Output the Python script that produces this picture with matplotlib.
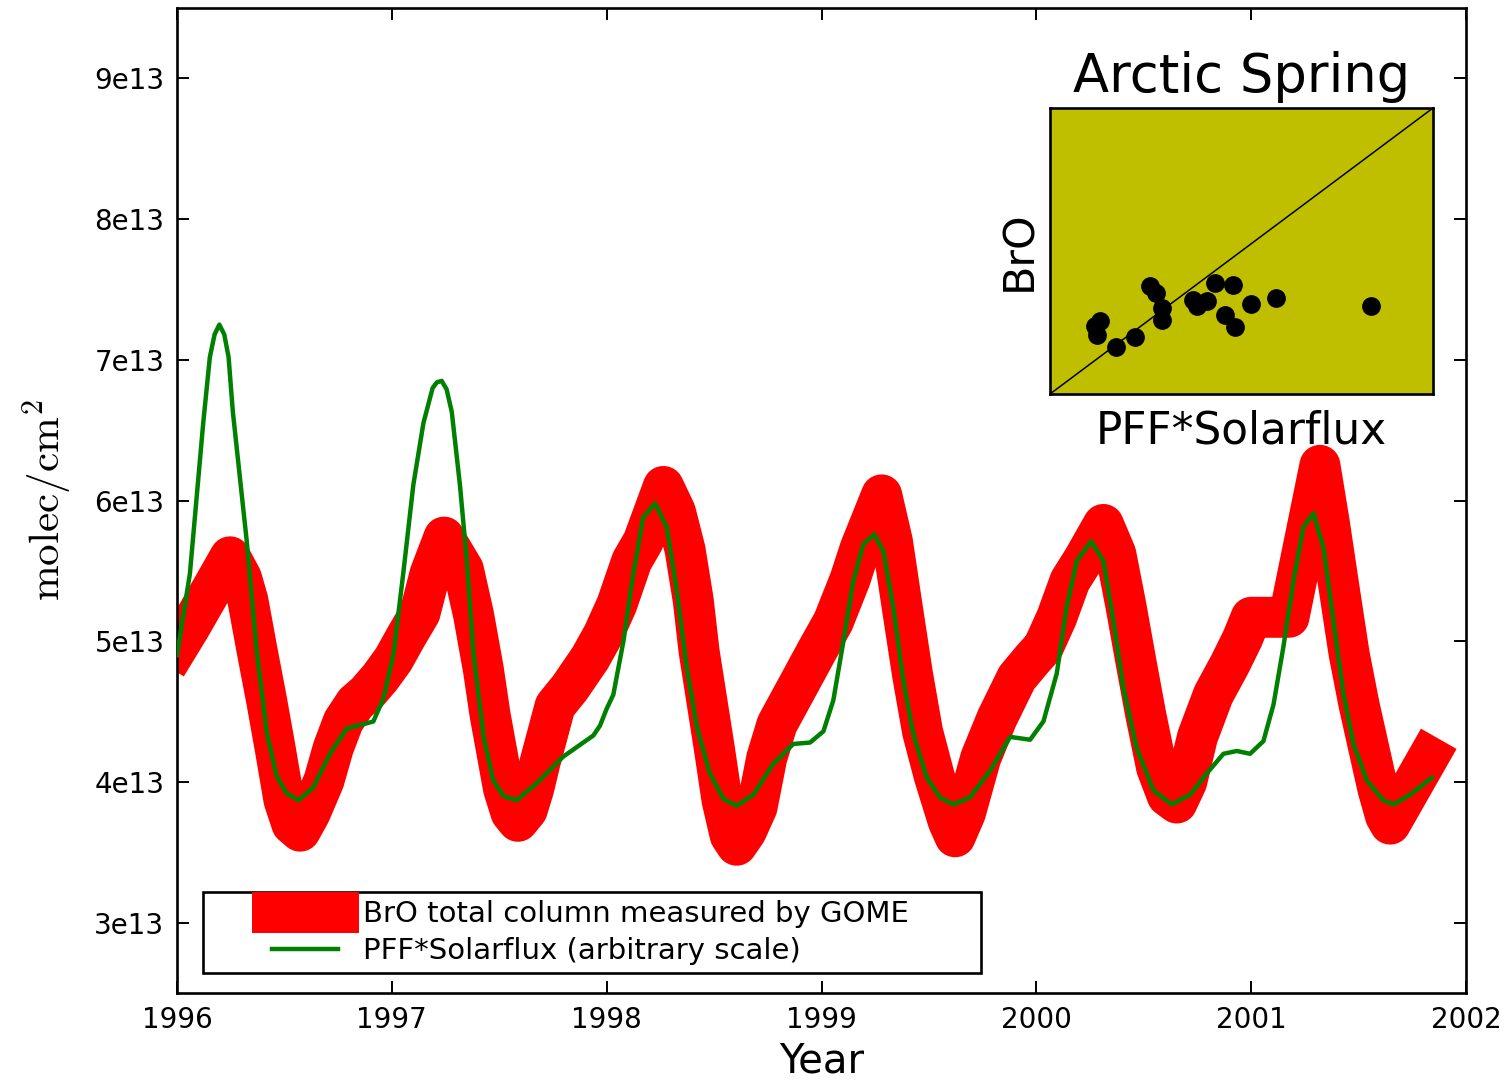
import numpy as np
import matplotlib
matplotlib.use("Agg")
import matplotlib.pyplot as plt
from matplotlib.legend_handler import HandlerLine2D

plt.rcParams['font.family'] = ['DejaVu Sans']
plt.rcParams['mathtext.fontset'] = 'cm'

# ---------------- data (values in units of 1e13 molec/cm^2) ----------------
bro_years = [1996.00, 1996.06, 1996.12, 1996.18, 1996.247, 1996.30, 1996.33, 1996.372,
             1996.417, 1996.459, 1996.498, 1996.535, 1996.573, 1996.62, 1996.684, 1996.727,
             1996.774, 1996.83, 1996.883, 1996.945, 1997.007, 1997.069, 1997.131, 1997.178,
             1997.243, 1997.333, 1997.38, 1997.426, 1997.457, 1997.488, 1997.52, 1997.555,
             1997.587, 1997.63, 1997.66, 1997.69, 1997.76, 1997.829, 1997.923, 1997.985,
             1998.047, 1998.117, 1998.17, 1998.264, 1998.32, 1998.365, 1998.403, 1998.43,
             1998.466, 1998.503, 1998.537, 1998.575, 1998.605, 1998.65, 1998.70, 1998.745,
             1998.793, 1998.90, 1998.978, 1999.055, 1999.133, 1999.18, 1999.28, 1999.33,
             1999.376, 1999.423, 1999.47, 1999.525, 1999.59, 1999.622, 1999.67, 1999.741,
             1999.816, 1999.909, 1999.98, 2000.033, 2000.095, 2000.157, 2000.219, 2000.312,
             2000.37, 2000.416, 2000.463, 2000.509, 2000.56, 2000.61, 2000.654, 2000.70,
             2000.75, 2000.824, 2000.902, 2000.96, 2001.00, 2001.176, 2001.32, 2001.363,
             2001.409, 2001.456, 2001.502, 2001.59, 2001.625, 2001.647, 2001.826]
bro_values = [4.95, 5.10, 5.26, 5.42, 5.60, 5.45, 5.29, 4.94,
              4.58, 4.22, 3.87, 3.70, 3.65, 3.78, 4.01, 4.24,
              4.43, 4.56, 4.63, 4.74, 4.87, 5.04, 5.20, 5.48,
              5.74, 5.51, 5.19, 4.80, 4.48, 4.22, 3.95, 3.78,
              3.72, 3.80, 3.95, 4.14, 4.54, 4.67, 4.88, 5.05,
              5.26, 5.57, 5.71, 6.10, 5.92, 5.65, 5.29, 4.93,
              4.58, 4.22, 3.87, 3.62, 3.55, 3.65, 3.82, 4.17,
              4.41, 4.71, 4.93, 5.14, 5.44, 5.66, 6.04, 5.71,
              5.24, 4.77, 4.36, 4.04, 3.72, 3.61, 3.78, 4.17,
              4.45, 4.74, 4.87, 4.96, 5.17, 5.43, 5.58, 5.83,
              5.62, 5.26, 4.86, 4.48, 4.10, 3.90, 3.85, 4.00,
              4.32, 4.62, 4.84, 5.02, 5.17, 5.17, 6.25, 5.85,
              5.38, 4.91, 4.55, 3.95, 3.76, 3.70, 4.18]

pff_years = [1996.00, 1996.06, 1996.122, 1996.153, 1996.175, 1996.197, 1996.22, 1996.24,
             1996.26, 1996.324, 1996.371, 1996.418, 1996.464, 1996.51, 1996.565, 1996.634,
             1996.712, 1996.79, 1996.867, 1996.914, 1996.96, 1997.007, 1997.053, 1997.10,
             1997.147, 1997.19, 1997.21, 1997.232, 1997.255, 1997.279, 1997.317, 1997.348,
             1997.379, 1997.426, 1997.472, 1997.52, 1997.58, 1997.674, 1997.798, 1997.938,
             1997.969, 1998.00, 1998.031, 1998.078, 1998.124, 1998.17, 1998.225, 1998.28,
             1998.326, 1998.373, 1998.42, 1998.48, 1998.543, 1998.605, 1998.683, 1998.776,
             1998.869, 1998.947, 1999.009, 1999.055, 1999.102, 1999.148, 1999.195, 1999.245,
             1999.288, 1999.334, 1999.381, 1999.427, 1999.49, 1999.552, 1999.614, 1999.691,
             1999.785, 1999.878, 1999.971, 2000.033, 2000.095, 2000.141, 2000.188, 2000.255,
             2000.312, 2000.359, 2000.405, 2000.467, 2000.545, 2000.63, 2000.716, 2000.793,
             2000.871, 2000.933, 2000.995, 2001.057, 2001.104, 2001.15, 2001.197, 2001.243,
             2001.29, 2001.337, 2001.383, 2001.43, 2001.476, 2001.538, 2001.615, 2001.662,
             2001.74, 2001.841]
pff_values = [4.90, 5.48, 6.55, 7.02, 7.18, 7.25, 7.18, 7.02,
              6.63, 5.72, 4.93, 4.35, 4.04, 3.92, 3.87, 3.96,
              4.20, 4.38, 4.41, 4.43, 4.59, 4.90, 5.48, 6.11,
              6.55, 6.80, 6.84, 6.85, 6.79, 6.63, 6.11, 5.59,
              4.93, 4.33, 4.01, 3.90, 3.87, 3.99, 4.18, 4.33,
              4.40, 4.52, 4.62, 5.00, 5.48, 5.88, 5.98, 5.81,
              5.36, 4.81, 4.39, 4.06, 3.88, 3.83, 3.91, 4.13,
              4.27, 4.28, 4.36, 4.58, 5.00, 5.43, 5.69, 5.76,
              5.64, 5.24, 4.72, 4.34, 4.03, 3.89, 3.84, 3.89,
              4.08, 4.32, 4.30, 4.43, 4.77, 5.24, 5.57, 5.71,
              5.57, 5.14, 4.67, 4.24, 3.94, 3.84, 3.91, 4.06,
              4.20, 4.22, 4.20, 4.29, 4.55, 4.96, 5.43, 5.81,
              5.91, 5.66, 5.14, 4.62, 4.27, 4.01, 3.87, 3.84,
              3.91, 4.03]

# Inset scatter (normalised units, diagonal is the 1:1 line)
inset_x = [0.260, 0.278, 0.293, 0.293, 0.130, 0.117, 0.123, 0.172, 0.221, 0.373,
           0.384, 0.410, 0.430, 0.477, 0.456, 0.484, 0.525, 0.590, 0.839]
inset_y = [0.376, 0.353, 0.301, 0.260, 0.254, 0.237, 0.208, 0.165, 0.200, 0.327,
           0.306, 0.324, 0.387, 0.382, 0.277, 0.235, 0.314, 0.334, 0.306]

xticks = [1996, 1997, 1998, 1999, 2000, 2001, 2002]
xticklabels = ['1996', '1997', '1998', '1999', '2000', '2001', '2002']
yticks = [3, 4, 5, 6, 7, 8, 9]
yticklabels = ['3e13', '4e13', '5e13', '6e13', '7e13', '8e13', '9e13']

bro_label = 'BrO total column measured by GOME'
pff_label = 'PFF*Solarflux (arbitrary scale)'

# ---------------- figure ----------------
W, H = 1506, 1081
fig = plt.figure(figsize=(W / 100, H / 100), dpi=100)
ax = fig.add_axes([177 / W, 1 - 993 / H, (1466 - 177) / W, (993 - 8) / H])

red_line, = ax.plot(bro_years, bro_values, color='red', lw=29.5,
                    solid_capstyle='projecting', solid_joinstyle='round',
                    label=bro_label, zorder=2)
green_line, = ax.plot(pff_years, pff_values, color='green', lw=3.2,
                      solid_capstyle='projecting', solid_joinstyle='round',
                      label=pff_label, zorder=3)

ax.set_xlim(1996, 2002)
ax.set_ylim(2.5, 9.5)
ax.set_xticks(xticks)
ax.set_xticklabels(xticklabels)
ax.set_yticks(yticks)
ax.set_yticklabels(yticklabels)
ax.tick_params(direction='in', top=True, right=True, length=8.4, width=1.4,
               labelsize=20, pad=9)
for s in ax.spines.values():
    s.set_linewidth(1.9)

ax.set_xlabel('Year', fontsize=29, labelpad=6)
ax.set_ylabel(r'$\mathrm{molec/cm^2}$', fontsize=31, labelpad=14)


class PosHandler(HandlerLine2D):
    def __init__(self, f0, f1, **kw):
        super().__init__(**kw)
        self.f0 = f0
        self.f1 = f1

    def get_xdata(self, legend, xdescent, ydescent, width, height, fontsize):
        x = np.array([-xdescent + self.f0 * width, -xdescent + self.f1 * width])
        return x, x


leg = ax.legend(handles=[red_line, green_line], loc='lower left',
                bbox_to_anchor=(26 / 1289, 20 / 985, (981 - 203) / 1289, 0.0),
                mode='expand', borderaxespad=0,
                fontsize=21, handlelength=4.8, handletextpad=0.4,
                borderpad=0.27, labelspacing=0.31, fancybox=False,
                framealpha=1, edgecolor='black',
                handler_map={red_line: PosHandler(0.435, 0.905),
                             green_line: PosHandler(0.435, 0.905)})
leg.get_frame().set_linewidth(1.9)

# ---------------- inset ----------------
ins = fig.add_axes([1050 / W, 1 - 394 / H, (1433 - 1050) / W, (394 - 108) / H])
ins.set_facecolor('#bfbf00')
ins.plot([0, 1], [0, 1], color='black', lw=1.1, zorder=2)
ins.plot(inset_x, inset_y, 'o', color='black', markersize=12.5, zorder=3)
ins.set_xlim(0, 1)
ins.set_ylim(0, 1)
ins.set_xticks([])
ins.set_yticks([])
for s in ins.spines.values():
    s.set_linewidth(1.9)
ins.set_title('Arctic Spring', fontsize=38, pad=11.8)
ins.set_xlabel('PFF*Solarflux', fontsize=31.5, labelpad=11.5)
ins.set_ylabel('BrO', fontsize=30.8, labelpad=7)

fig.savefig('out.png', dpi=100)
